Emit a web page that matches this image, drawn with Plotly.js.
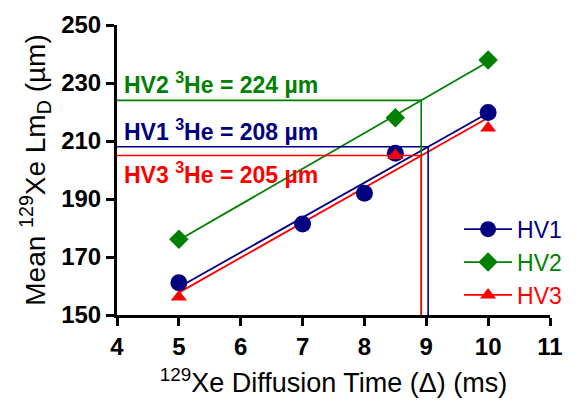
<!DOCTYPE html>
<html>
<head>
<meta charset="utf-8">
<script src="https://cdn.plot.ly/plotly-3.0.1.min.js"></script>
<style>html,body{margin:0;padding:0;background:#fff}#chart{width:579px;height:406px}</style>
</head>
<body>
<div id="chart"></div>
<script>
// ---- data ----
const seriesNames = ['HV1', 'HV2', 'HV3'];
const hv1X = [5, 7, 8, 8.5, 10];
const hv1Y = [161.1, 181.4, 192.0, 205.8, 219.8];
const hv2X = [5, 8.5, 10];
const hv2Y = [176.1, 218.0, 237.9];
const hv3X = [5, 8.5, 10];
const hv3Y = [156.2, 205.0, 214.5];
const heLmD = [208, 224, 205];           // 3He reference values (µm) for HV1, HV2, HV3
const xTicks = [4, 5, 6, 7, 8, 9, 10, 11];
const yTicks = [150, 170, 190, 210, 230, 250];

// ---- styles ----
const colors = ['#000080', '#008000', '#ff0000'];
const symbols = ['circle', 'diamond', 'triangle-up'];
const sizes = [17, 15, 14];
const FONT = 'Liberation Sans, Arial, sans-serif';

const xs = [hv1X, hv2X, hv3X];
const ys = [hv1Y, hv2Y, hv3Y];

function fit(x, y) {
  const n = x.length;
  const mx = x.reduce((a, b) => a + b, 0) / n;
  const my = y.reduce((a, b) => a + b, 0) / n;
  let sxy = 0, sxx = 0;
  for (let i = 0; i < n; i++) { sxy += (x[i] - mx) * (y[i] - my); sxx += (x[i] - mx) ** 2; }
  const m = sxy / sxx;
  return { m: m, b: my - m * mx };
}

const traces = [];
const annotations = [];
const annoPos = ['bottom', 'bottom', 'top'];

for (let k = 0; k < 3; k++) {
  const f = fit(xs[k], ys[k]);
  const x0 = Math.min(...xs[k]), x1 = Math.max(...xs[k]);
  // regression line
  traces.push({
    x: [x0, x1], y: [f.b + f.m * x0, f.b + f.m * x1],
    mode: 'lines', line: { color: colors[k], width: 1.8 },
    showlegend: false, hoverinfo: 'skip'
  });
}
for (let k = 0; k < 3; k++) {
  // data markers (null gaps so the legend shows line+marker but no connecting lines)
  const gx = [], gy = [];
  xs[k].forEach((v, i) => { gx.push(v, null); gy.push(ys[k][i], null); });
  traces.push({
    x: gx, y: gy, name: '<span style="color:' + colors[k] + '">' + seriesNames[k] + '</span>',
    mode: 'lines+markers', connectgaps: false,
    line: { color: colors[k], width: 1.8 },
    marker: { symbol: symbols[k], size: sizes[k], color: colors[k] },
    legendrank: k + 1
  });
}
for (let k = 0; k < 3; k++) {
  const f = fit(xs[k], ys[k]);
  const xi = (heLmD[k] - f.b) / f.m;
  traces.push({
    x: [xTicks[0], xi, xi], y: [heLmD[k], heLmD[k], yTicks[0]],
    mode: 'lines', line: { color: colors[k], width: 1.6 },
    showlegend: false, hoverinfo: 'skip'
  });
  annotations.push({
    xref: 'x', yref: 'y', x: xTicks[0], y: heLmD[k],
    xanchor: 'left', yanchor: annoPos[k], xshift: 5,
    text: '<b>' + seriesNames[k] + ' <sup>3</sup>He = ' + heLmD[k] + ' µm</b>',
    showarrow: false, font: { family: FONT, size: 23, color: colors[k] }
  });
}

const layout = {
  width: 579, height: 406,
  margin: { l: 117, r: 27, t: 25, b: 91 },
  paper_bgcolor: '#fff', plot_bgcolor: '#fff',
  font: { family: FONT, color: '#000' },
  showlegend: true,
  legend: {
    x: 0.79, xanchor: 'left', y: 0.37, yanchor: 'top',
    font: { family: FONT, size: 23 }, bgcolor: 'rgba(0,0,0,0)',
    itemwidth: 48, tracegroupgap: 0
  },
  xaxis: {
    range: [4, 11], tickvals: xTicks, ticktext: xTicks.map(String),
    showgrid: false, zeroline: false, showline: true, linecolor: '#000', linewidth: 3,
    ticks: 'outside', ticklen: 8, tickwidth: 3, tickcolor: '#000',
    tickfont: { family: FONT, size: 24, weight: 'bold' },
    title: { text: '<sup>129</sup>Xe Diffusion Time (Δ) (ms)', font: { family: FONT, size: 27 }, standoff: 15 }
  },
  yaxis: {
    range: [150, 250], tickvals: yTicks, ticktext: yTicks.map(String),
    showgrid: false, zeroline: false, showline: true, linecolor: '#000', linewidth: 3,
    ticks: 'outside', ticklen: 8, tickwidth: 3, tickcolor: '#000',
    tickfont: { family: FONT, size: 24, weight: 'bold' },
    title: { text: 'Mean <sup>129</sup>Xe Lm<sub>D</sub> (µm)', font: { family: FONT, size: 28 }, standoff: 8 }
  },
  annotations: annotations
};

Plotly.newPlot('chart', traces, layout, { displayModeBar: false, staticPlot: true });
</script>
</body>
</html>
